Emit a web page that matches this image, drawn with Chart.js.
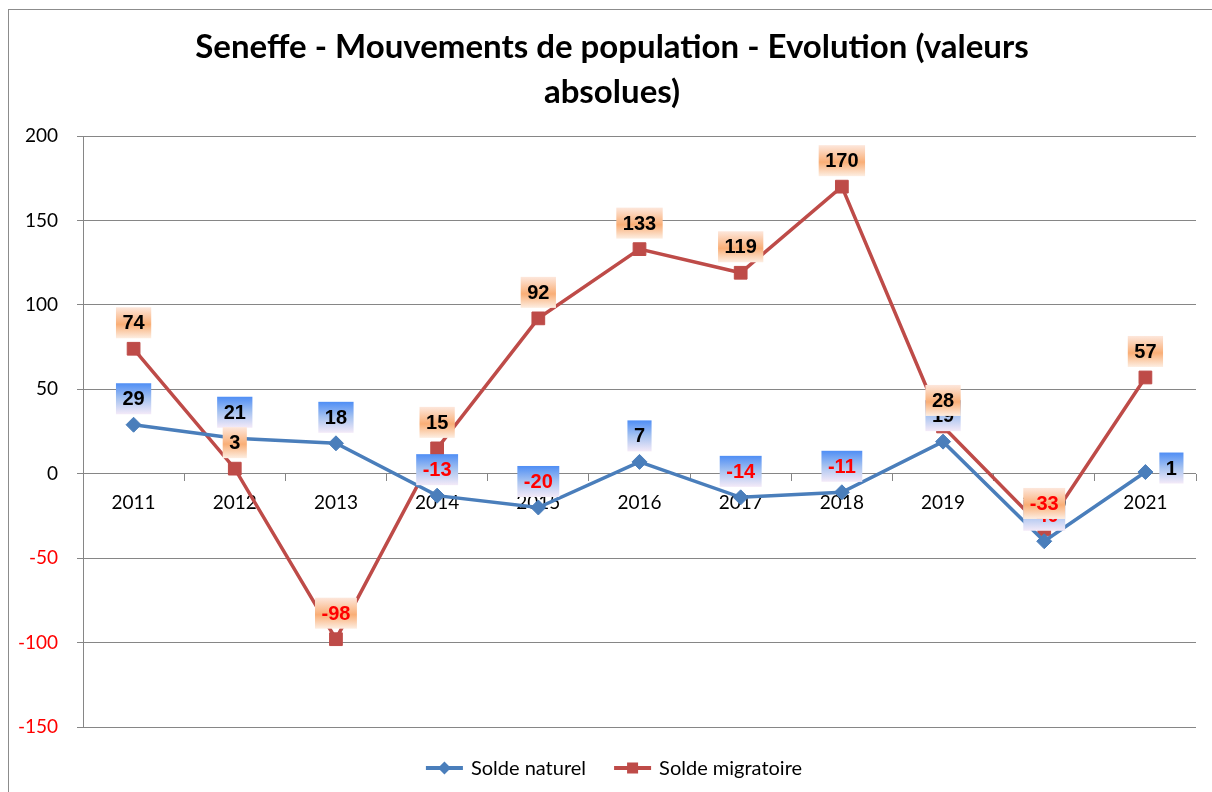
<!DOCTYPE html>
<html>
<head>
<meta charset="utf-8">
<script src="https://cdn.jsdelivr.net/npm/chart.js@4/dist/chart.umd.min.js"></script>
<style>
html,body{margin:0;padding:0;background:#fff;}
#wrap{position:relative;width:1212px;height:792px;overflow:hidden;}
#frame{position:absolute;left:8px;top:9px;width:1300px;height:900px;border:1px solid #8c8c8c;pointer-events:none;}
canvas{position:absolute;left:0;top:0;}
</style>
</head>
<body>
<div id="wrap"><canvas id="chart" width="1212" height="792"></canvas><div id="frame"></div></div>
<script>
// donnees
const years = ['2011','2012','2013','2014','2015','2016','2017','2018','2019','2020','2021'];
const soldeNaturel = [29, 21, 18, -13, -20, 7, -14, -11, 19, -40, 1];
const soldeMigratoire = [74, 3, -98, 15, 92, 133, 119, 170, 28, -33, 57];
const seriesNames = ['Solde naturel', 'Solde migratoire'];
const yMin = -150, yMax = 200, yStep = 50;
const titleLines = ['Seneffe - Mouvements de population - Evolution (valeurs', 'absolues)'];

const blue = '#4a7ebb';
const red = '#be4b48';
const legendFont = '20px Lato, "DejaVu Sans", sans-serif';

// etiquettes de valeur avec fond en degrade
const valueLabels = {
    id: 'valueLabels',
    afterDatasetsDraw(chart){
        let ctx = chart.ctx;
        ctx.save();
        ctx.font = 'bold 20px "Liberation Sans", Arial, sans-serif';
        ctx.textAlign = 'center';
        ctx.textBaseline = 'middle';
        chart.data.datasets.forEach((ds, di) => {
            let meta = chart.getDatasetMeta(di);
            meta.data.forEach((pt, i) => {
                let v = ds.data[i];
                let txt = String(v);
                let w = ctx.measureText(txt).width + 13;
                let h = 31;
                let cx = pt.x, cy = pt.y - 26;
                if(ds.labelSide && ds.labelSide[i] === 'right'){
                    cx = pt.x + 26;
                    cy = pt.y - 4;
                }
                let g = ctx.createLinearGradient(0, cy - h/2, 0, cy + h/2);
                ds.labelStops.forEach(s => g.addColorStop(s[0], s[1]));
                ctx.fillStyle = g;
                ctx.fillRect(cx - w/2, cy - h/2, w, h);
                ctx.fillStyle = v < 0 ? '#ff0000' : '#000000';
                ctx.fillText(txt, cx, cy + 1);
            });
        });
        ctx.restore();
    }
};

// titre et legende dessines a la main
const titleAndLegend = {
    id: 'titleAndLegend',
    afterDraw(chart){
        let ctx = chart.ctx;
        ctx.save();
        ctx.fillStyle = '#000';
        ctx.textAlign = 'center';
        ctx.textBaseline = 'middle';
        ctx.font = 'bold 33px Lato, "DejaVu Sans", sans-serif';
        titleLines.forEach((t, i) => ctx.fillText(t, 612, 47 + i*45));

        // legende
        ctx.font = legendFont;
        ctx.textAlign = 'left';
        let lineLen = 37, gapText = 8, gapItem = 28;
        let items = chart.data.datasets.map(ds => ({ds: ds, w: ctx.measureText(ds.label).width}));
        let total = items.reduce((a, it) => a + lineLen + gapText + it.w, 0) + gapItem*(items.length - 1);
        let x = 614 - total/2;
        let y = 768;
        items.forEach(it => {
            ctx.strokeStyle = it.ds.borderColor;
            ctx.lineWidth = 4;
            ctx.beginPath();
            ctx.moveTo(x, y);
            ctx.lineTo(x + lineLen, y);
            ctx.stroke();
            ctx.fillStyle = it.ds.borderColor;
            let mx = x + lineLen/2;
            ctx.beginPath();
            if(it.ds.pointStyle === 'rectRot'){
                ctx.moveTo(mx, y - 6.5);
                ctx.lineTo(mx + 6.5, y);
                ctx.lineTo(mx, y + 6.5);
                ctx.lineTo(mx - 6.5, y);
                ctx.closePath();
                ctx.fill();
            }else{
                ctx.fillRect(mx - 5.5, y - 5.5, 11, 11);
            }
            ctx.fillStyle = '#000';
            ctx.fillText(it.ds.label, x + lineLen + gapText, y + 1);
            x += lineLen + gapText + it.w + gapItem;
        });
        ctx.restore();
    }
};

new Chart(document.getElementById('chart'), {
    type: 'line',
    data: {
        labels: years,
        datasets: [{
            label: seriesNames[0],
            data: soldeNaturel,
            borderColor: blue,
            backgroundColor: blue,
            borderWidth: 3.5,
            pointStyle: 'rectRot',
            pointRadius: 7.5,
            pointBorderWidth: 1,
            tension: 0,
            labelSide: ['top','top','top','top','top','top','top','top','top','top','right'],
            labelStops: [[0, '#4f8ef5'], [0.5, '#a7c3f0'], [1, '#f4eaf8']]
        },{
            label: seriesNames[1],
            data: soldeMigratoire,
            borderColor: red,
            backgroundColor: red,
            borderWidth: 3.5,
            pointStyle: 'rect',
            pointRadius: 9,
            pointBorderWidth: 1,
            tension: 0,
            labelStops: [[0, '#fde7dc'], [0.55, '#f9ae76'], [1, '#fdeee2']]
        }]
    },
    options: {
        responsive: false,
        devicePixelRatio: 1,
        animation: false,
        layout: { padding: { top: 136, bottom: 65, left: 0, right: 16 } },
        plugins: {
            legend: { display: false },
            title: { display: false },
            tooltip: { enabled: false }
        },
        scales: {
            x: {
                position: { y: 0 },
                z: 1,
                offset: true,
                border: { display: false },
                grid: {
                    offset: true,
                    drawOnChartArea: false,
                    drawTicks: true,
                    tickLength: 7,
                    color: '#868686'
                },
                ticks: {
                    color: '#000',
                    font: { family: 'Lato', size: 19 },
                    padding: 11,
                    maxRotation: 0
                }
            },
            y: {
                min: yMin,
                max: yMax,
                afterFit(scale){ scale.width = 83; },
                border: { display: true, color: '#868686', width: 1 },
                grid: { color: '#868686', lineWidth: 1, tickLength: 6 },
                ticks: {
                    stepSize: yStep,
                    padding: 19,
                    font: { family: 'Lato', size: 19 },
                    color: c => c.tick.value < 0 ? '#ff0000' : '#000000'
                }
            }
        }
    },
    plugins: [valueLabels, titleAndLegend]
});
</script>
</body>
</html>
